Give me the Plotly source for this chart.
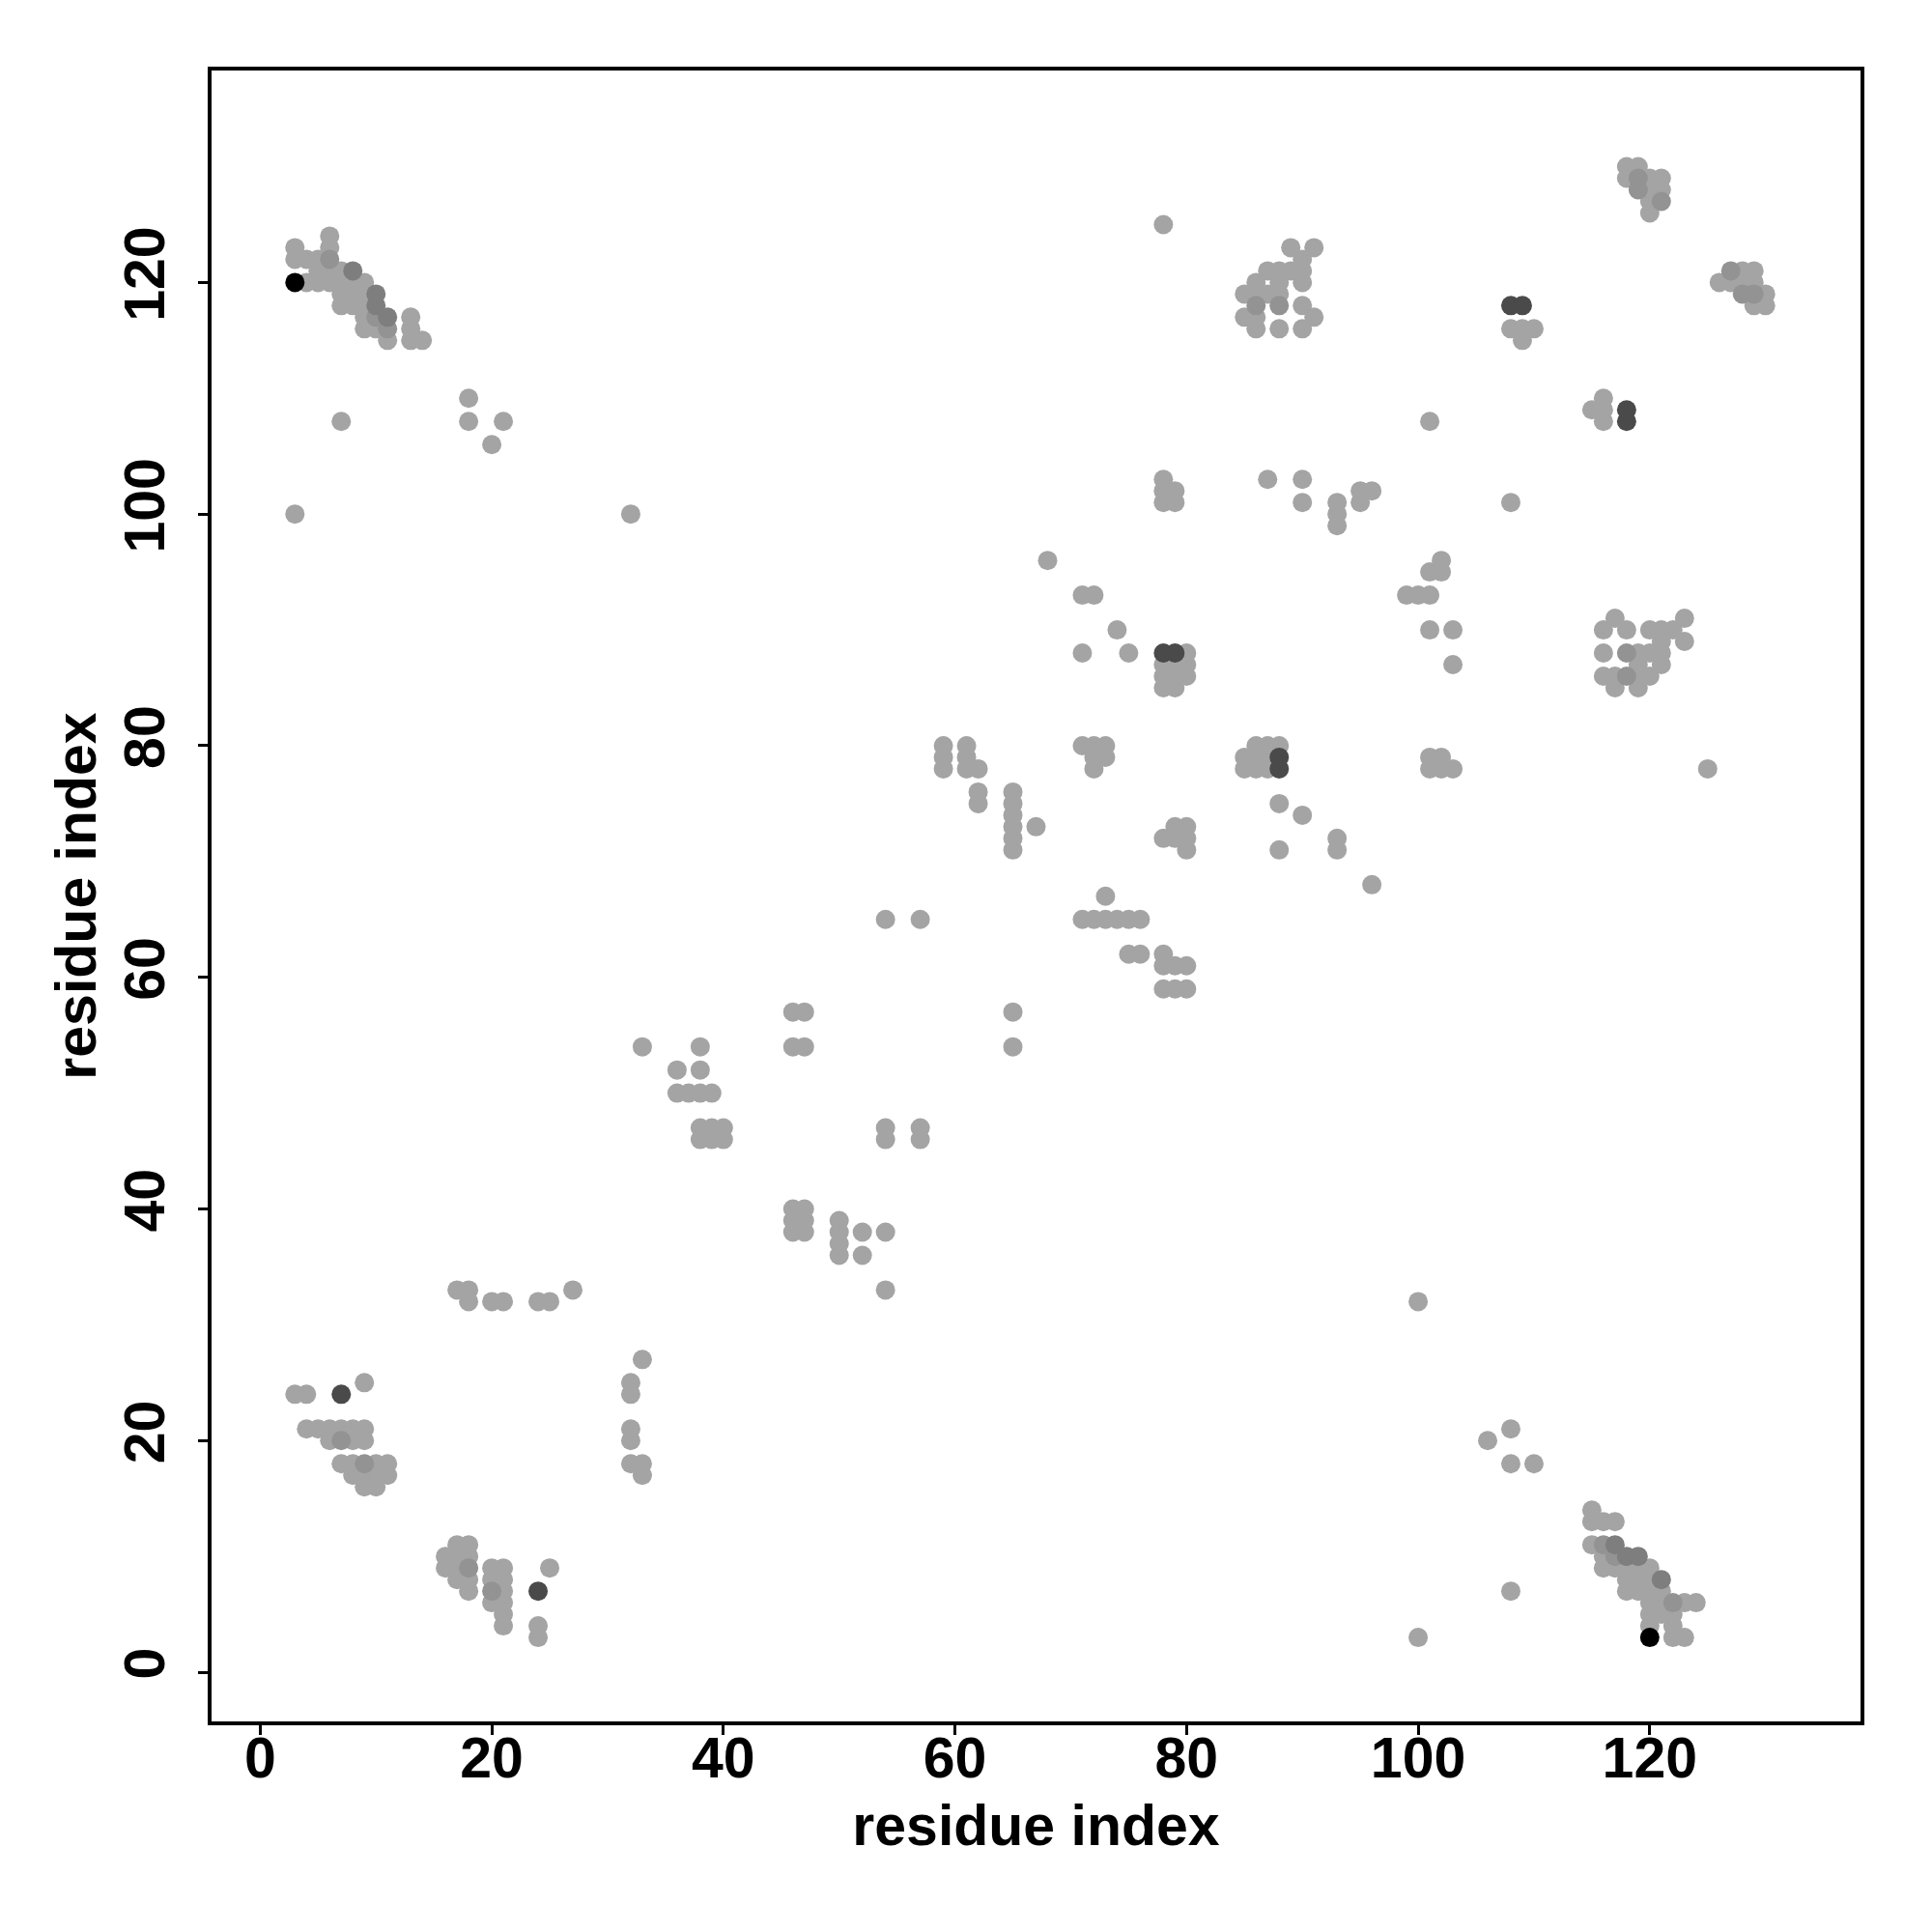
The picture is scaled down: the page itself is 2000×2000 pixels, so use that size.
import plotly.graph_objects as go

# Contacts (i < j); the map is symmetric, mirrored below.
# score: 0 light grey ... 3 dark grey, 4 black
contact_i = [
    3, 3, 3, 4, 4, 5, 5, 5, 6, 6, 6, 6, 6, 7, 7, 7, 7, 8, 8, 8, 8,
    9, 9, 9, 9, 9, 10, 10, 10, 10, 11, 11, 11, 13, 13, 13, 14,
    3, 4, 7, 9, 4, 5, 6, 7, 8, 9, 6, 7, 8, 9, 7, 8, 9, 10, 11, 8, 9, 10, 11, 9, 10,
    17, 18, 18, 20, 21, 24, 25, 27,
    33, 36, 38, 36, 37, 38, 39, 38, 38, 39, 40, 38, 39, 40, 46, 47, 46, 47,
    54, 57, 59, 59, 59, 61, 61, 61, 62, 62, 62, 65, 65, 65, 65, 65, 65, 67,
    71, 72, 73, 72, 73, 72,
    71, 75, 74, 71, 72, 68,
    78, 79, 78, 79, 80, 78, 79, 80, 78, 79, 80,
    78, 78, 78, 79, 79,
    87, 90, 90, 93, 93, 93, 95, 95, 96,
    85, 85, 86, 86, 86, 86, 86, 87, 87, 88, 88, 88, 88, 88, 89, 89,
    90, 90, 90, 90, 90, 91, 91,
    108, 109, 110, 109, 108, 109, 101,
    118, 119, 118, 119, 120, 121, 119, 120, 121, 120, 121, 120,
    3, 7, 18, 18, 20, 21, 32, 78,
]
contact_j = [
    120, 122, 123, 120, 122, 120, 121, 122, 120, 121, 122, 123, 124, 118, 119, 120, 121, 118, 119, 120, 121,
    116, 117, 118, 119, 120, 116, 117, 118, 119, 115, 116, 117, 115, 116, 117, 115,
    24, 24, 24, 25, 21, 21, 21, 21, 21, 21, 20, 20, 20, 20, 18, 18, 18, 18, 18, 17, 17, 17, 17, 16, 16,
    33, 33, 32, 32, 32, 32, 32, 33,
    54, 52, 52, 50, 50, 50, 50, 54, 46, 46, 46, 47, 47, 47, 54, 54, 57, 57,
    65, 65, 78, 79, 80, 78, 79, 80, 78, 75, 76, 71, 72, 73, 74, 75, 76, 73,
    80, 80, 80, 79, 79, 78,
    88, 88, 90, 93, 93, 96,
    85, 85, 86, 86, 86, 87, 87, 87, 88, 88, 88,
    101, 102, 103, 101, 102,
    103, 101, 103, 99, 100, 101, 101, 102, 102,
    117, 119, 116, 117, 118, 119, 120, 119, 121, 116, 118, 119, 120, 121, 121, 123,
    116, 118, 120, 121, 122, 117, 123,
    116, 116, 116, 115, 118, 118, 108,
    130, 130, 129, 129, 129, 129, 128, 128, 128, 127, 127, 126,
    100, 108, 108, 110, 106, 108, 100, 125,
]
contact_score = [
    4, 0, 0, 0, 0, 0, 0, 0, 0, 0, 1, 0, 0, 0, 0, 0, 0, 0, 0, 0, 2,
    0, 0, 0, 0, 0, 0, 1, 2, 2, 0, 1, 2, 0, 0, 0, 0,
    0, 0, 3, 0, 0, 0, 0, 0, 0, 0, 0, 1, 0, 0, 0, 0, 1, 0, 0, 0, 0, 0, 0, 0, 0,
    0, 0, 0, 0, 0, 0, 0, 0,
    0, 0, 0, 0, 0, 0, 0, 0, 0, 0, 0, 0, 0, 0, 0, 0, 0, 0,
    0, 0, 0, 0, 0, 0, 0, 0, 0, 0, 0, 0, 0, 0, 0, 0, 0, 0,
    0, 0, 0, 0, 0, 0,
    0, 0, 0, 0, 0, 0,
    0, 0, 0, 0, 0, 0, 0, 0, 3, 3, 0,
    0, 0, 0, 0, 0,
    0, 0, 0, 0, 0, 0, 0, 0, 0,
    0, 0, 0, 0, 1, 0, 0, 0, 0, 0, 1, 0, 0, 0, 0, 0,
    0, 0, 0, 0, 0, 0, 0,
    0, 0, 0, 0, 3, 3, 0,
    0, 0, 0, 1, 0, 0, 1, 0, 0, 0, 1, 0,
    0, 0, 0, 0, 0, 0, 0, 0,
]

tick_values = [0, 20, 40, 60, 80, 100, 120]
axis_title = "residue index"

# mirror to full symmetric map, draw darker points last
pts = []
for i, j, s in zip(contact_i, contact_j, contact_score):
    pts.append((i, j, s))
    pts.append((j, i, s))
pts.sort(key=lambda p: p[2])
xs = [p[0] for p in pts]
ys = [p[1] for p in pts]
cs = [p[2] for p in pts]

fig = go.Figure(go.Scatter(
    x=xs, y=ys, mode="markers", showlegend=False,
    marker=dict(size=20, color=cs, cmin=0, cmax=4,
                colorscale=[[0, "#a4a4a4"], [0.25, "#939393"], [0.5, "#7e7e7e"],
                            [0.75, "#4a4a4a"], [1, "#000000"]],
                line=dict(width=0)),
))

font_t = dict(family="Liberation Sans, Arial, sans-serif", size=59, color="black", weight="bold")
common = dict(tickvals=tick_values, ticks="outside", ticklen=10, tickwidth=3, tickcolor="black",
              showline=True, linecolor="black", linewidth=4, mirror=True,
              showgrid=False, zeroline=False, tickfont=font_t)

fig.update_layout(
    width=2000, height=2000,
    margin=dict(l=211, r=82, t=65, b=226),
    plot_bgcolor="white", paper_bgcolor="white",
    xaxis=dict(range=[-4.2, 138.2], title=dict(text=axis_title, font=font_t, standoff=18),
               ticklabelstandoff=-27, **common),
    yaxis=dict(range=[-4.25, 138.3], title=dict(text=axis_title, font=font_t, standoff=0),
               tickangle=-90, ticklabelstandoff=11, **common),
)

fig.write_html("out.html")
